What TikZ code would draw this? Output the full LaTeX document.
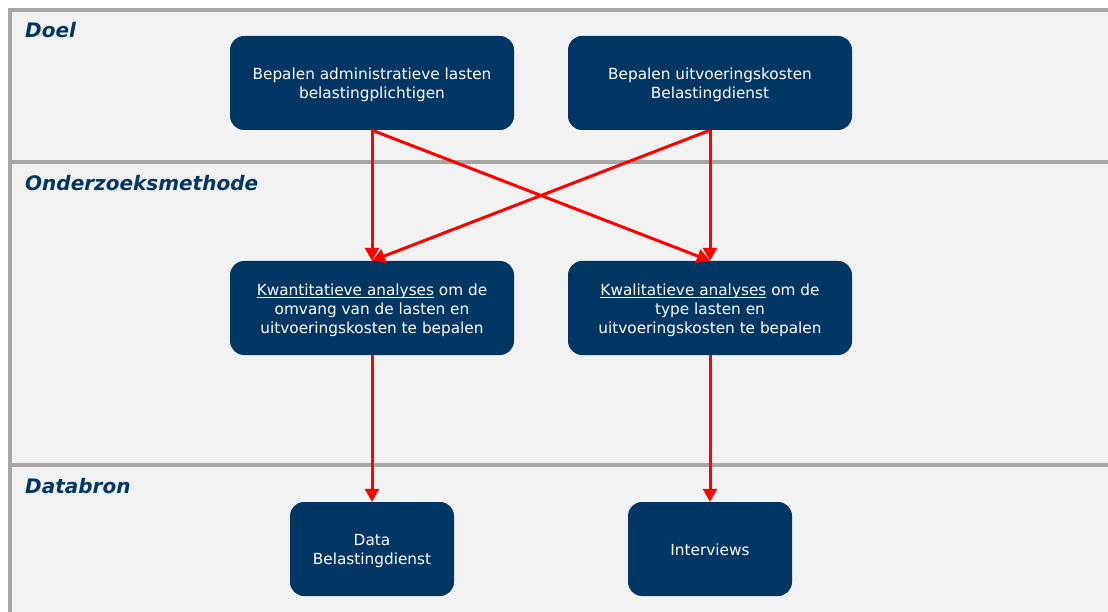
\documentclass[tikz,border=0pt]{standalone}
\usepackage{fontspec}
\setmainfont{DejaVu Sans}
\usetikzlibrary{arrows.meta}
\definecolor{navy}{RGB}{0,54,100}
\definecolor{lanebg}{RGB}{242,242,242}
\definecolor{lanegray}{RGB}{166,166,166}
\definecolor{arrowred}{RGB}{255,0,0}
\newcommand{\myul}[1]{\setbox0\hbox{#1}\rlap{\rule[-2.6pt]{\wd0}{0.9pt}}\box0\relax}
\newcommand{\boxtxt}[1]{\raisebox{0pt}[\dimexpr\height+5pt\relax][\depth]{\begin{tabular}{@{}c@{}}#1\end{tabular}}}
\begin{document}
\begin{tikzpicture}[x=1pt,y=-1pt,
  bluebox/.style={fill=navy, rounded corners=14pt, text=white,
    font=\fontsize{15.3}{19}\selectfont, inner sep=0pt,
    minimum width=284pt, minimum height=94pt},
  smallbox/.style={bluebox, minimum width=164pt},
  lanelabel/.style={anchor=west, text=navy, inner sep=0pt,
    font=\fontsize{20}{24}\selectfont\bfseries\itshape},
  lanesep/.style={draw=lanegray, line width=4pt},
  redarrow/.style={draw=arrowred, line width=3pt,
    -{Triangle[length=13pt,width=14pt]}}
]
\useasboundingbox (0,0) rectangle (1108,612);
\clip (0,0) rectangle (1108,612);
\fill[white] (0,0) rectangle (1108,612);
\draw[lanesep, fill=lanebg] (10,10) rectangle (1130,640);
\draw[lanesep] (10,162.5) -- (1130,162.5);
\draw[lanesep] (10,465) -- (1130,465);

\node[lanelabel] (l1) at (25,30.5) {Doel};
\node[lanelabel] (l2) at (25,183.5) {Onderzoeksmethode};
\node[lanelabel] (l3) at (25,486.5) {Databron};

\node[bluebox] (b1) at (372,83) {\boxtxt{Bepalen administratieve lasten\\belastingplichtigen}};
\node[bluebox] (b2) at (710,83) {\boxtxt{Bepalen uitvoeringskosten\\Belastingdienst}};
\node[bluebox] (b3) at (372,308) {\boxtxt{\myul{Kwantitatieve analyses} om de\\omvang van de lasten en\\uitvoeringskosten te bepalen}};
\node[bluebox] (b4) at (710,308) {\boxtxt{\myul{Kwalitatieve analyses} om de\\type lasten en\\uitvoeringskosten te bepalen}};
\node[smallbox] (b5) at (372,549) {\boxtxt{Data\\Belastingdienst}};
\node[smallbox] (b6) at (710,549) {\boxtxt{Interviews}};

\draw[redarrow] (b1.south) -- (b3.north);
\draw[redarrow] (b1.south) -- (b4.north);
\draw[redarrow] (b2.south) -- (b3.north);
\draw[redarrow] (b2.south) -- (b4.north);
\draw[redarrow] (b3.south) -- (b5.north);
\draw[redarrow] (b4.south) -- (b6.north);
\end{tikzpicture}
\end{document}
